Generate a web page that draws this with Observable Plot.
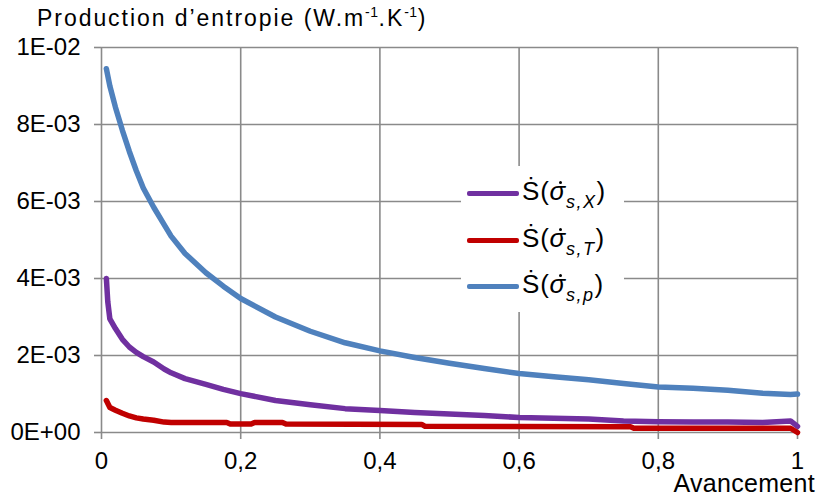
<!DOCTYPE html>
<html>
<head>
<meta charset="utf-8">
<script src="https://cdn.jsdelivr.net/npm/d3@7"></script>
<script src="https://cdn.jsdelivr.net/npm/@observablehq/plot@0.6"></script>
<style>
  html, body { margin: 0; padding: 0; background: white; }
  #wrap { position: relative; width: 818px; height: 497px; font-family: "Liberation Sans", Arial, sans-serif; }
  #title { position: absolute; left: 37px; top: 5px; font-size: 23px; line-height: 26px; letter-spacing: 1.95px; white-space: nowrap; color: #000; }
  #title sup { font-size: 14px; vertical-align: 0; position: relative; top: -9px; letter-spacing: 0.5px; }
  #legend { position: absolute; left: 461px; top: 166px; width: 163px; height: 146px; background: white; }
  .row { position: absolute; left: 6px; height: 40px; white-space: nowrap; }
  .sw { position: absolute; left: 0; width: 52px; height: 5px; border-radius: 2px; }
  .lab { position: absolute; left: 55px; font-size: 26px; line-height: 30px; letter-spacing: 0.8px; color: #000; }
  .sig { position: relative; font-style: italic; display: inline-block; }
  .dot { position: absolute; left: 9px; top: 5px; width: 3px; height: 3px; border-radius: 50%; background: #000; }
  .lab sub { font-size: 18px; vertical-align: 0; position: relative; top: 8px; font-style: italic; letter-spacing: 1.5px; }
  #xlabel { position: absolute; right: 3px; top: 471px; font-size: 25px; line-height: 25px; letter-spacing: 0.3px; color: #000; }
</style>
</head>
<body>
<div id="wrap">
  <div id="chart"></div>
  <div id="title"></div>
  <div id="legend"></div>
  <div id="xlabel"></div>
</div>
<script>
// ---- data ----
const titleText = "Production d’entropie (W.m<sup>-1</sup>.K<sup>-1</sup>)";
const xAxisLabel = "Avancement";

const xTicks = [0, 0.2, 0.4, 0.6, 0.8, 1];
const xTickLabels = ["0", "0,2", "0,4", "0,6", "0,8", "1"];
const yTicks = [0, 0.002, 0.004, 0.006, 0.008, 0.01];
const yTickLabels = ["0E+00", "2E-03", "4E-03", "6E-03", "8E-03", "1E-02"];

const seriesNames = ["sX", "sT", "sp"];
const seriesSubs = ["s,X", "s,T", "s,p"];
const seriesColors = ["#7030A0", "#C00000", "#4F81BD"];

// S(sigma_s,p) – blue
const xP = [0.007, 0.012, 0.02, 0.03, 0.04, 0.05, 0.06, 0.075, 0.09, 0.1, 0.12, 0.15, 0.175, 0.2, 0.25, 0.3, 0.35, 0.4, 0.45, 0.5, 0.55, 0.6, 0.65, 0.7, 0.75, 0.8, 0.85, 0.9, 0.95, 0.99, 1.0];
const yP = [0.00945, 0.0090, 0.00845, 0.00785, 0.0073, 0.0068, 0.00635, 0.00585, 0.0054, 0.0051, 0.00465, 0.00415, 0.0038, 0.00348, 0.0030, 0.00263, 0.00233, 0.00212, 0.00195, 0.0018, 0.00166, 0.00153, 0.00145, 0.00137, 0.00127, 0.00118, 0.00115, 0.0011, 0.00102, 0.00099, 0.0010];

// S(sigma_s,X) – purple
const xX = [0.007, 0.009, 0.012, 0.02, 0.03, 0.04, 0.05, 0.06, 0.075, 0.09, 0.1, 0.12, 0.15, 0.175, 0.2, 0.25, 0.3, 0.35, 0.4, 0.45, 0.5, 0.55, 0.6, 0.65, 0.7, 0.75, 0.8, 0.85, 0.9, 0.95, 0.99, 1.0];
const yX = [0.0040, 0.0034, 0.00295, 0.0027, 0.00242, 0.00222, 0.00208, 0.00197, 0.00183, 0.00165, 0.00155, 0.0014, 0.00125, 0.00112, 0.00101, 0.00083, 0.00072, 0.00062, 0.00057, 0.00052, 0.00048, 0.00044, 0.00039, 0.00037, 0.00035, 0.0003, 0.00028, 0.00027, 0.00027, 0.00026, 0.0003, 0.00016];

// S(sigma_s,T) – red
const xT = [0.007, 0.012, 0.02, 0.03, 0.04, 0.05, 0.06, 0.075, 0.09, 0.1, 0.15, 0.18, 0.185, 0.215, 0.22, 0.26, 0.265, 0.46, 0.465, 0.76, 0.765, 0.99, 1.0];
const yT = [0.00083, 0.00065, 0.00058, 0.0005, 0.00043, 0.00038, 0.00035, 0.00032, 0.00027, 0.00026, 0.00026, 0.00026, 0.00022, 0.00022, 0.00026, 0.00026, 0.00022, 0.00021, 0.00016, 0.00015, 0.00011, 0.00011, 0.0];

// ---- build table for the library ----
const rows = [];
xX.forEach((x, i) => rows.push({series: "sX", x, y: yX[i]}));
xT.forEach((x, i) => rows.push({series: "sT", x, y: yT[i]}));
xP.forEach((x, i) => rows.push({series: "sp", x, y: yP[i]}));

const xFmt = new Map(xTicks.map((t, i) => [t, xTickLabels[i]]));
const yFmt = new Map(yTicks.map((t, i) => [t, yTickLabels[i]]));
const gridColor = "#8a8a8a";

const chart = Plot.plot({
  width: 818,
  height: 497,
  marginLeft: 101,
  marginRight: 21,
  marginTop: 47,
  marginBottom: 65,
  style: {fontFamily: "'Liberation Sans', Arial, sans-serif", fontSize: "24px", background: "white", color: "black"},
  x: {domain: [0, 1]},
  y: {domain: [0, 0.01]},
  color: {domain: seriesNames, range: seriesColors},
  marks: [
    Plot.gridX(xTicks, {stroke: gridColor, strokeOpacity: 1, strokeWidth: 1.6}),
    Plot.gridY(yTicks, {stroke: gridColor, strokeOpacity: 1, strokeWidth: 1.6}),
    Plot.axisX(xTicks, {tickSize: 7, tickPadding: 12, stroke: gridColor, strokeWidth: 1.6, fill: "black", tickFormat: d => xFmt.get(d), label: null, fontSize: 24}),
    Plot.axisY(yTicks, {tickSize: 7, tickPadding: 14, stroke: gridColor, strokeWidth: 1.6, fill: "black", tickFormat: d => yFmt.get(d), label: null, fontSize: 24}),
    Plot.line(rows, {x: "x", y: "y", z: "series", stroke: "series", strokeWidth: 5.5, strokeLinejoin: "round", strokeLinecap: "round"})
  ]
});
document.getElementById("chart").appendChild(chart);

document.getElementById("title").innerHTML = titleText;
document.getElementById("xlabel").textContent = xAxisLabel;

const legend = document.getElementById("legend");
const rowTops = [8, 55, 101];
seriesNames.forEach((s, i) => {
  const r = document.createElement("div");
  r.className = "row";
  r.style.top = rowTops[i] + "px";
  r.innerHTML = `<div class="sw" style="background:${seriesColors[i]};top:17px"></div>` +
    `<div class="lab" style="top:2px">Ṡ(<span class="sig">σ<span class="dot"></span></span><sub>${seriesSubs[i]}</sub>)</div>`;
  legend.appendChild(r);
});
</script>
</body>
</html>
